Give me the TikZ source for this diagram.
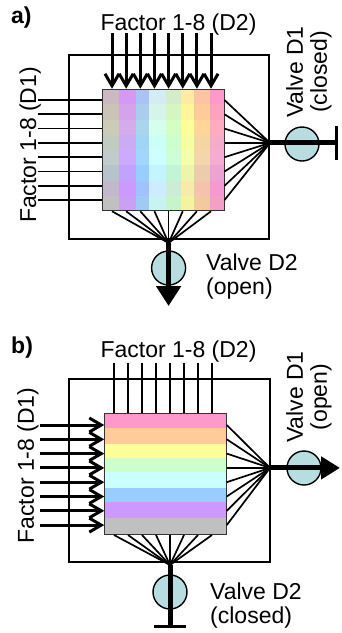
\documentclass[tikz,border=0pt]{standalone}
\usepackage{fontspec}
\setmainfont{Liberation Sans}
\usetikzlibrary{arrows.meta}

\definecolor{pinkS}{HTML}{FF99CC}
\definecolor{orangeS}{HTML}{FFCC99}
\definecolor{yellowS}{HTML}{FFFF99}
\definecolor{greenS}{HTML}{CCFFCC}
\definecolor{cyanS}{HTML}{CCFFFF}
\definecolor{blueS}{HTML}{99CCFF}
\definecolor{purpleS}{HTML}{CC99FF}
\definecolor{grayS}{HTML}{C0C0C0}
\definecolor{valveC}{HTML}{B7DDE0}

\begin{document}
\begin{tikzpicture}[x=1pt, y=-1pt,
    every node/.style={font=\fontsize{23}{24}\selectfont, inner sep=0pt},
    tag/.style={font=\fontsize{23}{24}\selectfont\bfseries},
    frame/.style={draw=black, line width=1.5pt},
    block/.style={rectangle, draw=black!80, line width=1pt, minimum size=121.5pt},
    valve/.style={circle, draw=black, line width=1.4pt, fill=valveC, minimum size=34pt},
    feed/.style={line width=1.7pt},
    flow/.style={line width=3pt, -{Straight Barb[length=12pt, width=14pt]}},
    pipe/.style={line width=5pt}
]
\useasboundingbox (0,0) rectangle (341,633);

% a) valve D1 closed, valve D2 open
\draw[frame] (69,55) rectangle (269,239);
\foreach \xa/\xb/\c in {102.5/119/grayS, 119/136/purpleS, 136/149.3/blueS, 149.3/166/cyanS,
    166/180.7/greenS, 180.7/194.3/yellowS, 194.3/210/orangeS, 210/224/pinkS}
  \fill[\c] (\xa,89) rectangle (\xb,211);
\foreach \ya/\yb/\c in {89/104.25/pinkS, 104.25/119.5/orangeS, 119.5/134.75/yellowS, 134.75/150/greenS,
    150/165.25/cyanS, 165.25/180.5/blueS, 180.5/195.75/purpleS, 195.75/211/grayS}
  \fill[\c, opacity=.18] (102.5,\ya) rectangle (224,\yb);
\node[block] (sqA) at (163.25,150) {};

\coordinate (hubA1) at (270,142.9);
\coordinate (hubA2) at (168.6,243);
\foreach \x [count=\i] in {112,126.15,140.3,154.45,168.6,182.75,196.9,211.05} {
  \coordinate (topA\i) at (\x,33);
  \draw[flow] (topA\i) -- (topA\i |- sqA.north);
  \draw[feed] (topA\i |- sqA.south) -- (hubA2);
}
\foreach \y [count=\i] in {100,114.3,128.6,142.9,157.2,171.5,185.8,200.1} {
  \coordinate (inA\i) at (38,\y);
  \draw[feed] (inA\i) -- (inA\i -| sqA.west);
  \draw[feed] (inA\i -| sqA.east) -- (hubA1);
}

\node[valve] (vA1) at (302,144) {};
\node[valve] (vA2) at (168.6,268) {};
\coordinate (endA1) at (338,142.9);
\coordinate (endA2) at (168.6,306);
\draw[pipe, -{Bar[width=34pt, line width=3pt]}] (hubA1) -- (endA1);
\draw[pipe, -{Triangle[length=20pt, width=24pt]}] (hubA2) -- (endA2);

\node[tag, anchor=base west] (tagA) at (11,23) {a)};
\node[anchor=base] (topTxtA) at (178.5,30) {Factor 1-8 (D2)};
\node[anchor=base, rotate=90] (leftTxtA) at (36,145) {Factor 1-8 (D1)};
\node[rotate=90, align=center] (v1TxtA) at (309,72) {Valve D1\\(closed)};
\node[anchor=north west, align=left] (v2TxtA) at (206,253.5) {Valve D2\\(open)};

% b) valve D1 open, valve D2 closed
\draw[frame] (69,379) rectangle (270,562);
\foreach \ya/\yb/\c in {413/428/pinkS, 428/444/orangeS, 444/458/yellowS, 458/472/greenS,
    472/488/cyanS, 488/502/blueS, 502/518/purpleS, 518/534.5/grayS}
  \fill[\c] (105,\ya) rectangle (226,\yb);
\node[block] (sqB) at (165.5,473.75) {};

\coordinate (hubB1) at (270,467.9);
\coordinate (hubB2) at (170,565);
\foreach \x [count=\i] in {114,128,142,156,170,184,198,212} {
  \coordinate (topB\i) at (\x,363);
  \draw[feed] (topB\i) -- (topB\i |- sqB.north);
  \draw[feed] (topB\i |- sqB.south) -- (hubB2);
}
\foreach \y [count=\i] in {425,439.3,453.6,467.9,482.2,496.5,510.8,525.1} {
  \coordinate (inB\i) at (40,\y);
  \draw[flow] (inB\i) -- (inB\i -| sqB.west);
  \draw[feed] (inB\i -| sqB.east) -- (hubB1);
}

\node[valve] (vB1) at (304,468) {};
\node[valve] (vB2) at (170,592) {};
\coordinate (endB1) at (340,467.9);
\coordinate (endB2) at (170,628);
\draw[pipe, -{Triangle[length=19pt, width=22pt]}] (hubB1) -- (endB1);
\draw[pipe, -{Bar[width=32pt, line width=3pt]}] (hubB2) -- (endB2);

\node[tag, anchor=base west] (tagB) at (11,353) {b)};
\node[anchor=base] (topTxtB) at (178.5,357) {Factor 1-8 (D2)};
\node[anchor=base, rotate=90] (leftTxtB) at (34,465.5) {Factor 1-8 (D1)};
\node[rotate=90, align=center] (v1TxtB) at (309,397) {Valve D1\\(open)};
\node[anchor=north west, align=left] (v2TxtB) at (210,582.5) {Valve D2\\(closed)};
\end{tikzpicture}
\end{document}
